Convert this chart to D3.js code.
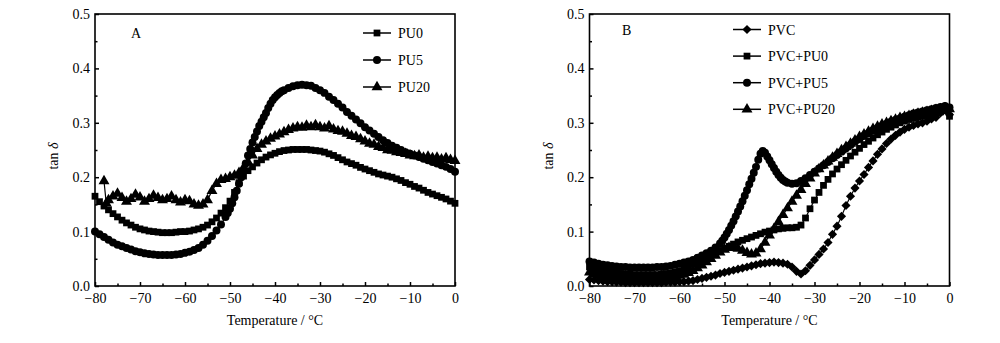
<!DOCTYPE html>
<html>
<head>
<meta charset="utf-8">
<script src="https://cdn.jsdelivr.net/npm/d3@7"></script>
<style>
  html, body { margin: 0; padding: 0; background: #fff; }
  svg { display: block; }
  text { font-family: "Liberation Serif", "Times New Roman", serif; fill: #000; }
</style>
</head>
<body>
<svg id="chart" width="1000" height="343"></svg>
<script>
// ---- Panel A: neat PU samples (temperature °C, tan δ) ----
const pu0 = [[-80,.165],[-79,.155],[-78,.147],[-77,.14],[-76,.133],[-75,.127],[-74,.121],[-73,.116],[-72,.112],[-71,.108],[-70,.105],[-69,.103],[-68,.101],[-67,.1],[-66,.099],[-65,.098],[-64,.098],[-63,.098],[-62,.099],[-61,.1],[-60,.1],[-59,.101],[-58,.103],[-57,.105],[-56,.108],[-55,.112],[-54,.118],[-53,.125],[-52,.134],[-51,.144],[-50,.156],[-49,.172],[-48,.19],[-47,.202],[-46,.212],[-45,.219],[-44,.226],[-43,.232],[-42,.237],[-41,.241],[-40,.244],[-39,.247],[-38,.249],[-37,.25],[-36,.251],[-35,.251],[-34,.251],[-33,.251],[-32,.25],[-31,.249],[-30,.248],[-29,.246],[-28,.243],[-27,.24],[-26,.236],[-25,.232],[-24,.228],[-23,.225],[-22,.222],[-21,.218],[-20,.215],[-19,.212],[-18,.209],[-17,.206],[-16,.204],[-15,.202],[-14,.2],[-13,.197],[-12,.194],[-11,.19],[-10,.187],[-9,.183],[-8,.18],[-7,.176],[-6,.172],[-5,.169],[-4,.166],[-3,.163],[-2,.16],[-1,.156],[0,.152]];
const pu5 = [[-80,.1],[-79,.095],[-78,.09],[-77,.085],[-76,.08],[-75,.076],[-74,.073],[-73,.07],[-72,.067],[-71,.064],[-70,.062],[-69,.06],[-68,.059],[-67,.058],[-66,.057],[-65,.057],[-64,.057],[-63,.057],[-62,.058],[-61,.059],[-60,.061],[-59,.063],[-58,.066],[-57,.07],[-56,.076],[-55,.083],[-54,.092],[-53,.102],[-52,.113],[-51,.127],[-50.5,.134],[-50,.142],[-49.5,.152],[-49,.163],[-48.5,.175],[-48,.188],[-47.5,.2],[-47,.212],[-46.5,.225],[-46,.24],[-45.5,.252],[-45,.264],[-44.5,.274],[-44,.284],[-43.5,.294],[-43,.302],[-42.5,.31],[-42,.318],[-41.5,.327],[-41,.335],[-40.5,.342],[-40,.347],[-39.5,.351],[-39,.355],[-38.5,.358],[-38,.36],[-37,.364],[-36,.367],[-35,.369],[-34,.37],[-33,.369],[-32,.368],[-31,.364],[-30,.36],[-29,.355],[-28,.348],[-27,.342],[-26,.335],[-25,.328],[-24,.32],[-23,.313],[-22,.306],[-21,.299],[-20,.292],[-19,.286],[-18,.28],[-17,.274],[-16,.268],[-15,.263],[-14,.258],[-13,.254],[-12,.25],[-11,.246],[-10,.243],[-9,.24],[-8,.237],[-7,.234],[-6,.231],[-5,.228],[-4,.225],[-3,.222],[-2,.219],[-1,.215],[0,.21]];
const pu20 = [[-78,.193],[-77.5,.152],[-77,.158],[-76,.165],[-75,.17],[-74,.162],[-73,.155],[-72,.16],[-71,.168],[-70,.163],[-69,.155],[-68,.16],[-67,.166],[-66,.162],[-65,.158],[-64,.16],[-63,.165],[-62,.158],[-61,.154],[-60,.158],[-59,.156],[-58,.15],[-57,.148],[-56,.15],[-55,.158],[-54,.175],[-53,.188],[-52,.195],[-51,.197],[-50,.2],[-49,.203],[-48,.208],[-47,.217],[-46,.228],[-45,.24],[-44,.252],[-43,.26],[-42,.266],[-41,.271],[-40,.275],[-39,.279],[-38,.283],[-37,.287],[-36,.29],[-35,.292],[-34,.291],[-33,.295],[-32,.292],[-31,.296],[-30,.292],[-29,.29],[-28,.294],[-27,.288],[-26,.285],[-25,.284],[-24,.28],[-23,.276],[-22,.274],[-21,.27],[-20,.266],[-19,.262],[-18,.26],[-17,.256],[-16,.254],[-15,.25],[-14,.249],[-13,.246],[-12,.245],[-11,.243],[-10,.24],[-9,.239],[-8,.24],[-7,.236],[-6,.238],[-5,.235],[-4,.236],[-3,.233],[-2,.235],[-1,.232],[0,.23]];

// ---- Panel B: PVC blends ----
const pvc = [[-80,.012],[-79,.011],[-78,.01],[-77,.009],[-76,.008],[-75,.008],[-74,.007],[-73,.007],[-72,.006],[-71,.006],[-70,.006],[-69,.006],[-68,.006],[-67,.006],[-66,.006],[-65,.006],[-64,.006],[-63,.007],[-62,.007],[-61,.007],[-60,.008],[-59,.008],[-58,.009],[-57,.01],[-56,.012],[-55,.014],[-54,.016],[-53,.018],[-52,.02],[-51,.023],[-50,.025],[-49,.027],[-48,.029],[-47,.031],[-46,.033],[-45,.035],[-44,.037],[-43,.039],[-42,.041],[-41,.042],[-40,.043],[-39,.044],[-38,.043],[-37,.042],[-36,.04],[-35,.035],[-34,.027],[-33,.022],[-32,.028],[-31,.038],[-30,.048],[-29,.058],[-28,.068],[-27,.08],[-26,.095],[-25,.11],[-24,.128],[-23,.148],[-22,.165],[-21,.18],[-20,.193],[-19,.205],[-18,.218],[-17,.23],[-16,.242],[-15,.252],[-14,.262],[-13,.27],[-12,.277],[-11,.283],[-10,.288],[-9,.292],[-8,.295],[-7,.298],[-6,.3],[-5,.303],[-4,.307],[-3,.31],[-2,.318],[-1,.33],[0,.315]];
const pvcPu0 = [[-80,.035],[-79,.032],[-78,.03],[-77,.028],[-76,.026],[-75,.025],[-74,.024],[-73,.023],[-72,.022],[-71,.022],[-70,.021],[-69,.021],[-68,.021],[-67,.021],[-66,.021],[-65,.021],[-64,.022],[-63,.023],[-62,.024],[-61,.026],[-60,.028],[-59,.031],[-58,.035],[-57,.04],[-56,.045],[-55,.049],[-54,.053],[-53,.057],[-52,.061],[-51,.065],[-50,.069],[-49,.073],[-48,.077],[-47,.081],[-46,.084],[-45,.087],[-44,.09],[-43,.093],[-42,.096],[-41,.099],[-40,.101],[-39,.103],[-38,.105],[-37,.106],[-36,.107],[-35,.107],[-34,.108],[-33,.112],[-32,.125],[-31,.142],[-30,.158],[-29,.172],[-28,.185],[-27,.196],[-26,.206],[-25,.215],[-24,.223],[-23,.231],[-22,.239],[-21,.246],[-20,.253],[-19,.26],[-18,.266],[-17,.272],[-16,.278],[-15,.283],[-14,.288],[-13,.292],[-12,.296],[-11,.3],[-10,.303],[-9,.306],[-8,.308],[-7,.31],[-6,.312],[-5,.314],[-4,.316],[-3,.318],[-2,.32],[-1,.322],[0,.312]];
const pvcPu5 = [[-80,.045],[-79,.043],[-78,.041],[-77,.039],[-76,.038],[-75,.037],[-74,.036],[-73,.035],[-72,.035],[-71,.034],[-70,.034],[-69,.034],[-68,.034],[-67,.034],[-66,.034],[-65,.035],[-64,.035],[-63,.036],[-62,.037],[-61,.039],[-60,.041],[-59,.043],[-58,.045],[-57,.048],[-56,.052],[-55,.056],[-54,.06],[-53,.065],[-52,.071],[-51,.078],[-50.5,.083],[-50,.089],[-49.5,.096],[-49,.103],[-48.5,.111],[-48,.119],[-47.5,.128],[-47,.137],[-46.5,.146],[-46,.156],[-45.5,.166],[-45,.176],[-44.5,.187],[-44,.197],[-43.5,.208],[-43,.219],[-42.5,.232],[-42,.243],[-41.5,.248],[-41,.245],[-40.5,.238],[-40,.231],[-39.5,.224],[-39,.217],[-38.5,.21],[-38,.204],[-37.5,.199],[-37,.195],[-36.5,.192],[-36,.19],[-35,.188],[-34,.189],[-33,.193],[-32,.198],[-31,.204],[-30,.21],[-29,.216],[-28,.222],[-27,.228],[-26,.235],[-25,.241],[-24,.247],[-23,.253],[-22,.259],[-21,.265],[-20,.27],[-19,.276],[-18,.281],[-17,.286],[-16,.29],[-15,.294],[-14,.298],[-13,.302],[-12,.305],[-11,.308],[-10,.311],[-9,.314],[-8,.317],[-7,.319],[-6,.321],[-5,.323],[-4,.325],[-3,.327],[-2,.329],[-1,.331],[0,.328]];
const pvcPu20 = [[-80,.025],[-79,.022],[-78,.02],[-77,.018],[-76,.017],[-75,.016],[-74,.015],[-73,.015],[-72,.014],[-71,.014],[-70,.013],[-69,.013],[-68,.013],[-67,.013],[-66,.013],[-65,.014],[-64,.014],[-63,.015],[-62,.016],[-61,.017],[-60,.019],[-59,.021],[-58,.024],[-57,.028],[-56,.033],[-55,.038],[-54,.044],[-53,.05],[-52,.056],[-51,.062],[-50,.067],[-49,.07],[-48,.071],[-47,.069],[-46,.065],[-45,.061],[-44,.058],[-43,.06],[-42,.068],[-41,.08],[-40,.093],[-39,.105],[-38,.118],[-37,.131],[-36,.143],[-35,.155],[-34,.166],[-33,.177],[-32,.188],[-31,.198],[-30,.207],[-29,.215],[-28,.222],[-27,.229],[-26,.236],[-25,.243],[-24,.25],[-23,.256],[-22,.262],[-21,.268],[-20,.274],[-19,.279],[-18,.284],[-17,.289],[-16,.293],[-15,.297],[-14,.3],[-13,.303],[-12,.306],[-11,.309],[-10,.311],[-9,.313],[-8,.315],[-7,.317],[-6,.319],[-5,.32],[-4,.322],[-3,.324],[-2,.325],[-1,.327],[0,.325]];

// ---- axis ticks and labels ----
const xMajor = [-80, -70, -60, -50, -40, -30, -20, -10, 0];
const xMinor = [-75, -65, -55, -45, -35, -25, -15, -5];
const yMajor = [0, 0.1, 0.2, 0.3, 0.4, 0.5];
const yMinor = [0.05, 0.15, 0.25, 0.35, 0.45];
const xTitle = "Temperature / °C";

const panels = [
  { tag: "A", left: 95, right: 455, tagX: 131, legX: 377, legY: 33, legStep: 27,
    series: [ { name: "PU0", data: pu0, shape: "square" },
              { name: "PU5", data: pu5, shape: "circle" },
              { name: "PU20", data: pu20, shape: "triangle" } ] },
  { tag: "B", left: 589.5, right: 949.5, tagX: 622, legX: 747, legY: 29.5, legStep: 26.6,
    series: [ { name: "PVC", data: pvc, shape: "diamond" },
              { name: "PVC+PU0", data: pvcPu0, shape: "square" },
              { name: "PVC+PU5", data: pvcPu5, shape: "circle" },
              { name: "PVC+PU20", data: pvcPu20, shape: "triangle" } ] }
];

const plotTop = 14, plotBottom = 286;
const svg = d3.select("#chart");
const fmtX = d => d === 0 ? "0" : "\u2212" + Math.abs(d);

// filled black markers; the diamond is a square turned by 45°
const symbolFor = {
  square:   { type: d3.symbolSquare,   size: 46, rot: 0 },
  circle:   { type: d3.symbolCircle,   size: 50, rot: 0 },
  triangle: { type: d3.symbolTriangle, size: 52, rot: 0 },
  diamond:  { type: d3.symbolSquare,   size: 42, rot: 45 }
};
function drawMarker(g, shape, x, y) {
  const s = symbolFor[shape];
  g.append("path")
    .attr("d", d3.symbol(s.type, s.size)())
    .attr("transform", `translate(${x},${y}) rotate(${s.rot})`)
    .attr("fill", "#000");
}

panels.forEach(p => {
  const x = d3.scaleLinear().domain([-80, 0]).range([p.left, p.right]);
  const y = d3.scaleLinear().domain([0, 0.5]).range([plotBottom, plotTop]);
  const g = svg.append("g");

  // curves
  const line = d3.line().x(d => x(d[0])).y(d => y(d[1]));
  p.series.forEach(s => {
    g.append("path").attr("d", line(s.data))
      .attr("fill", "none").attr("stroke", "#000").attr("stroke-width", 1.2);
    s.data.forEach(d => drawMarker(g, s.shape, x(d[0]), y(d[1])));
  });

  // axes with inward ticks
  g.append("g").attr("transform", `translate(0,${plotBottom})`)
    .call(d3.axisBottom(x).tickValues(xMajor).tickSizeInner(-4).tickSizeOuter(0)
      .tickPadding(7).tickFormat(fmtX));
  g.append("g").attr("transform", `translate(0,${plotBottom})`)
    .call(d3.axisBottom(x).tickValues(xMinor).tickSizeInner(-2.5).tickSizeOuter(0).tickFormat(""));
  g.append("g").attr("transform", `translate(${p.left},0)`)
    .call(d3.axisLeft(y).tickValues(yMajor).tickSizeInner(-4).tickSizeOuter(0)
      .tickPadding(5).tickFormat(d3.format(".1f")));
  g.append("g").attr("transform", `translate(${p.left},0)`)
    .call(d3.axisLeft(y).tickValues(yMinor).tickSizeInner(-2.5).tickSizeOuter(0).tickFormat(""));
  g.selectAll(".domain").remove();
  g.selectAll(".tick line").attr("stroke", "#000").attr("stroke-width", 1.5);
  g.selectAll(".tick text").attr("font-size", 14)
    .attr("font-family", "'Liberation Serif', 'Times New Roman', serif");

  // frame
  g.append("rect").attr("x", p.left).attr("y", plotTop)
    .attr("width", p.right - p.left).attr("height", plotBottom - plotTop)
    .attr("fill", "none").attr("stroke", "#000").attr("stroke-width", 1.6);

  // axis titles
  g.append("text").attr("x", (p.left + p.right) / 2).attr("y", 325)
    .attr("text-anchor", "middle").attr("font-size", 14).text(xTitle);
  const yt = g.append("text")
    .attr("transform", `translate(${p.left - 37},${(plotTop + plotBottom) / 2 + 6}) rotate(-90)`)
    .attr("text-anchor", "middle").attr("font-size", 14);
  yt.append("tspan").text("tan ");
  yt.append("tspan").attr("font-style", "italic").text("δ");

  // panel tag
  g.append("text").attr("x", p.tagX).attr("y", p.legY + 5).attr("font-size", 14).text(p.tag);

  // legend
  p.series.forEach((s, i) => {
    const ly = p.legY + i * p.legStep;
    g.append("line").attr("x1", p.legX - 14).attr("x2", p.legX + 14)
      .attr("y1", ly).attr("y2", ly).attr("stroke", "#000").attr("stroke-width", 1.5);
    drawMarker(g, s.shape, p.legX, ly);
    g.append("text").attr("x", p.legX + 21).attr("y", ly + 5)
      .attr("font-size", 14).text(s.name);
  });
});
</script>
</body>
</html>
